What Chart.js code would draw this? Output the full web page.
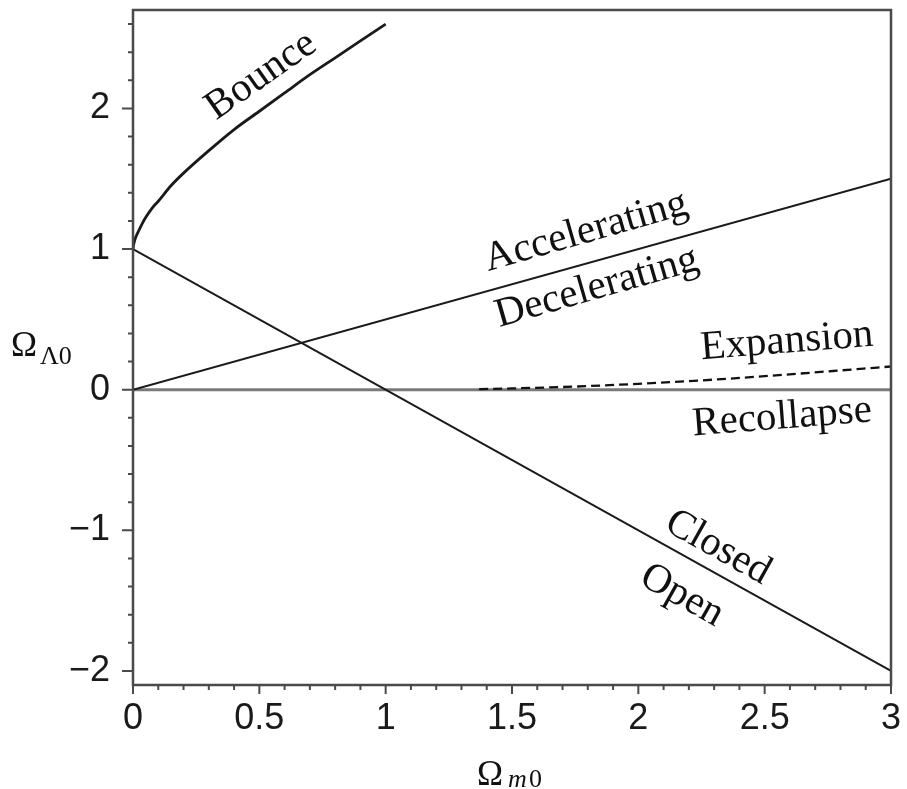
<!DOCTYPE html>
<html>
<head>
<meta charset="utf-8">
<script src="https://cdn.jsdelivr.net/npm/chart.js@4.4.1/dist/chart.umd.min.js"></script>
<style>
  html, body { margin: 0; padding: 0; background: #fff; }
  canvas { display: block; }
</style>
</head>
<body>
<canvas id="chart" width="907" height="789"></canvas>
<script>
// кривая "Bounce"
const bounceX = [0, 0.002, 0.005, 0.01, 0.02, 0.035, 0.05, 0.075, 0.1, 0.15, 0.2, 0.3, 0.4, 0.5, 0.6, 0.7, 0.8, 0.9, 1.0];
const bounceY = [1.00, 1.027, 1.05, 1.08, 1.12, 1.176, 1.224, 1.29, 1.34, 1.45, 1.54, 1.70, 1.85, 1.98, 2.11, 2.24, 2.36, 2.48, 2.60];

// граница closed / open
const closedX = [0, 3];
const closedY = [1, -2];

// граница accelerating / decelerating
const accelX = [0, 3];
const accelY = [0, 1.5];

// серая линия нуля
const zeroX = [0, 3];
const zeroY = [0, 0];

// пунктир expansion / recollapse
const expandX = [1.37, 1.5, 1.75, 2, 2.25, 2.5, 2.75, 3];
const expandY = [0.004, 0.009, 0.022, 0.042, 0.066, 0.096, 0.13, 0.165];

// подписи осей
const xTicks = [0, 0.5, 1, 1.5, 2, 2.5, 3];
const xTickLabels = ['0', '0.5', '1', '1.5', '2', '2.5', '3'];
const yTicks = [-2, -1, 0, 1, 2];
const yTickLabels = ['\u22122', '\u22121', '0', '1', '2'];

// подписи областей
const regionText = ['Bounce', 'Accelerating', 'Decelerating', 'Expansion', 'Recollapse', 'Closed', 'Open'];
const regionX = [0.507, 1.793, 1.836, 2.588, 2.569, 2.315, 2.173];
const regionY = [2.232, 1.123, 0.725, 0.341, -0.199, -1.123, -1.464];
const regionAngle = [-35, -16, -16, -4.5, -4.5, 29.3, 29.3];

const chartContainer = document.getElementById('chart');

function toPoints(xs, ys) {
  return xs.map((x, i) => ({ x: x, y: ys[i] }));
}

function findLabel(values, labels, v) {
  const i = values.findIndex(t => Math.abs(t - v) < 1e-6);
  return i >= 0 ? labels[i] : '';
}

// рамка, засечки и подписи рисуются поверх
const decorPlugin = {
  id: 'decor',
  afterDraw(chart) {
    const ctx = chart.ctx;
    const area = chart.chartArea;
    const xs = chart.scales.x;
    const ys = chart.scales.y;

    ctx.save();
    ctx.strokeStyle = '#4a4a4a';
    ctx.lineWidth = 2.5;
    ctx.strokeRect(area.left, area.top, area.right - area.left, area.bottom - area.top);

    // засечки
    ctx.lineWidth = 2;
    ctx.beginPath();
    for (let i = 0; i <= 30; i++) {
      const v = i / 10;
      const px = xs.getPixelForValue(v);
      const len = (i % 5 === 0) ? 9 : 5;
      ctx.moveTo(px, area.bottom);
      ctx.lineTo(px, area.bottom + len);
    }
    for (let i = -10; i <= 13; i++) {
      const v = i / 5;
      const py = ys.getPixelForValue(v);
      const len = (i % 5 === 0) ? 11 : 5;
      ctx.moveTo(area.left, py);
      ctx.lineTo(area.left - len, py);
    }
    ctx.stroke();

    // подписи областей
    ctx.fillStyle = '#111';
    ctx.font = '41px "Liberation Serif", "Times New Roman", serif';
    ctx.textAlign = 'center';
    ctx.textBaseline = 'middle';
    regionText.forEach((text, i) => {
      ctx.save();
      ctx.translate(xs.getPixelForValue(regionX[i]), ys.getPixelForValue(regionY[i]));
      ctx.rotate(regionAngle[i] * Math.PI / 180);
      ctx.fillText(text, 0, 0);
      ctx.restore();
    });

    // названия осей
    ctx.textAlign = 'left';
    ctx.textBaseline = 'alphabetic';
    ctx.font = '35px "Liberation Serif", serif';
    ctx.fillText('\u03A9', 11, 356);
    ctx.font = '26px "Liberation Serif", serif';
    ctx.fillText('\u039B0', 40, 364);

    const cx = (area.left + area.right) / 2;
    ctx.font = '35px "Liberation Serif", serif';
    ctx.fillText('\u03A9', cx - 35, 785);
    ctx.font = 'italic 26px "Liberation Serif", serif';
    ctx.fillText('m', cx - 4, 787);
    ctx.font = '26px "Liberation Serif", serif';
    ctx.fillText('0', cx + 17, 787);
    ctx.restore();
  }
};

function drawChart() {
  const chart = new Chart(chartContainer, {
    type: 'scatter',
    data: {
      datasets: [
        {
          data: toPoints(bounceX, bounceY),
          showLine: true,
          borderColor: '#1a1a1a',
          borderWidth: 2.8,
          pointRadius: 0,
          cubicInterpolationMode: 'monotone'
        },
        {
          data: toPoints(closedX, closedY),
          showLine: true,
          borderColor: '#1a1a1a',
          borderWidth: 2,
          pointRadius: 0
        },
        {
          data: toPoints(accelX, accelY),
          showLine: true,
          borderColor: '#1a1a1a',
          borderWidth: 2,
          pointRadius: 0
        },
        {
          data: toPoints(expandX, expandY),
          showLine: true,
          borderColor: '#111',
          borderWidth: 2.3,
          borderDash: [9, 5],
          pointRadius: 0,
          cubicInterpolationMode: 'monotone'
        },
        {
          data: toPoints(zeroX, zeroY),
          showLine: true,
          borderColor: '#7a7a7a',
          borderWidth: 3,
          pointRadius: 0
        }
      ]
    },
    options: {
      responsive: false,
      animation: false,
      devicePixelRatio: 1,
      layout: { padding: { left: 0, top: 10, right: 16, bottom: 0 } },
      plugins: {
        legend: { display: false },
        tooltip: { enabled: false }
      },
      scales: {
        x: {
          type: 'linear',
          min: 0,
          max: 3,
          grid: { display: false, drawTicks: false },
          border: { display: false },
          afterFit(scale) {
            scale.height = 104;
            scale.paddingLeft = 0;
            scale.paddingRight = 0;
          },
          ticks: {
            stepSize: 0.5,
            padding: 12,
            color: '#1a1a1a',
            font: { family: '"Liberation Sans", Arial, sans-serif', size: 36 },
            maxRotation: 0,
            autoSkip: false,
            callback: v => findLabel(xTicks, xTickLabels, v)
          }
        },
        y: {
          type: 'linear',
          min: -2.1,
          max: 2.7,
          grid: { display: false, drawTicks: false },
          border: { display: false },
          afterFit(scale) {
            scale.width = 133;
            scale.paddingTop = 0;
            scale.paddingBottom = 0;
          },
          ticks: {
            stepSize: 1,
            includeBounds: false,
            padding: 23,
            color: '#1a1a1a',
            font: { family: '"Liberation Sans", Arial, sans-serif', size: 36 },
            autoSkip: false,
            callback: v => findLabel(yTicks, yTickLabels, v)
          }
        }
      }
    },
    plugins: [decorPlugin]
  });

  window.chart = chart;
}

drawChart();
</script>
</body>
</html>
